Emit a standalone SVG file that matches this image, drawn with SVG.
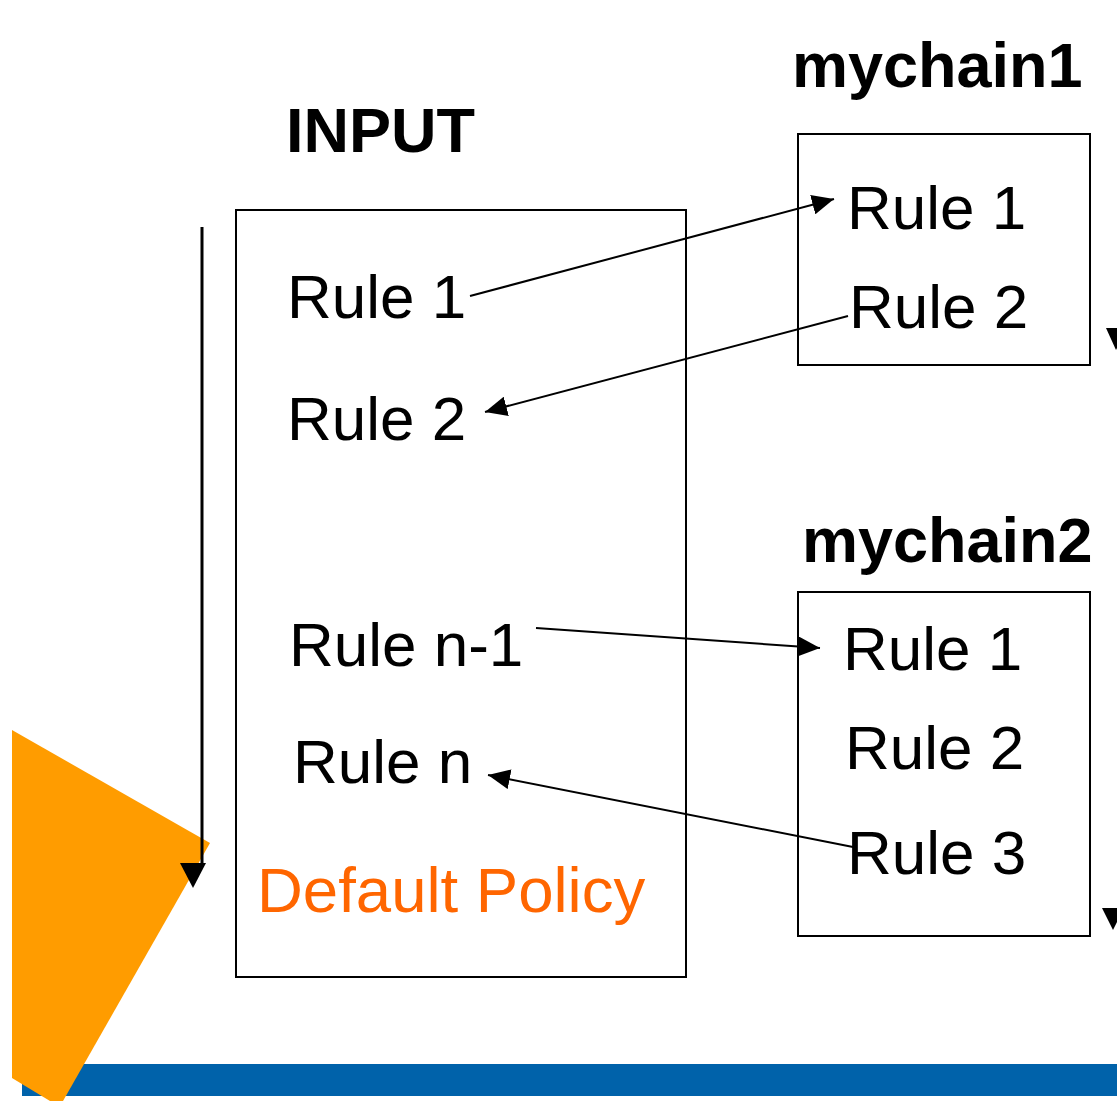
<svg xmlns="http://www.w3.org/2000/svg" width="1117" height="1101" viewBox="0 0 1117 1101">
<style>
.box{fill:none;stroke:#000;stroke-width:2}
.t{font-family:"Liberation Sans",Arial,sans-serif;font-size:62px;fill:#000}
.b{font-weight:bold;font-size:63px}
.c{stroke:#000;stroke-width:2;fill:none}
</style>
<defs>
<marker id="ah" markerUnits="userSpaceOnUse" markerWidth="24" markerHeight="20" refX="22" refY="10" orient="auto">
<path d="M0,0 L22,10 L0,20 Z" fill="#000"/>
</marker>
</defs>
<rect width="1117" height="1101" fill="#fff"/>
<g id="decor">
<rect x="22" y="1064" width="1095" height="32" fill="#0062AA"/>
<polygon points="12,730 210,843 63,1101 50,1101 12,1078" fill="#FF9C00"/>
</g>
<g id="input">
<text class="t b" x="286" y="152">INPUT</text>
<rect class="box" x="236" y="210" width="450" height="767"/>
<text class="t" x="287" y="318">Rule 1</text>
<text class="t" x="287" y="440">Rule 2</text>
<text class="t" x="289" y="666">Rule n-1</text>
<text class="t" x="293" y="783">Rule n</text>
<text class="t" x="257" y="912" style="fill:#FF6600;font-size:63.5px">Default Policy</text>
</g>
<g id="mychain1">
<text class="t b" x="792" y="87">mychain1</text>
<rect class="box" x="798" y="134" width="292" height="231"/>
<text class="t" x="847" y="229">Rule 1</text>
<text class="t" x="849" y="328">Rule 2</text>
</g>
<g id="mychain2">
<text class="t b" x="802" y="562">mychain2</text>
<rect class="box" x="798" y="592" width="292" height="344"/>
<text class="t" x="843" y="670">Rule 1</text>
<text class="t" x="845" y="769">Rule 2</text>
<text class="t" x="847" y="874">Rule 3</text>
</g>
<g id="connectors">
<line x1="202" y1="227" x2="202" y2="864" stroke="#000" stroke-width="3"/>
<polygon points="180,863 206,863 193,888" fill="#000"/>
<line class="c" x1="470" y1="296" x2="834" y2="199" marker-end="url(#ah)"/>
<line class="c" x1="848" y1="316" x2="485" y2="412" marker-end="url(#ah)"/>
<line class="c" x1="536" y1="628" x2="820" y2="648" marker-end="url(#ah)"/>
<line class="c" x1="853" y1="847" x2="488" y2="775" marker-end="url(#ah)"/>
<polygon points="1106,328 1127,328 1116,350" fill="#000"/>
<polygon points="1102,908 1124,908 1113,930" fill="#000"/>
</g>
</svg>
